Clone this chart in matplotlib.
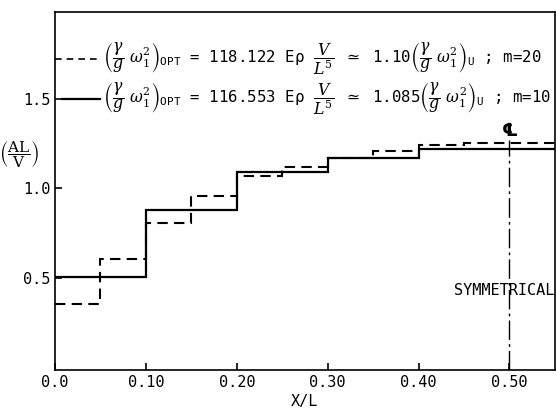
import matplotlib
matplotlib.use("Agg")
import matplotlib.pyplot as plt
import numpy as np

plt.rcParams["font.family"] = ["DejaVu Sans Mono", "DejaVu Sans"]
plt.rcParams["mathtext.fontset"] = "dejavuserif"

# optimum area distribution, m = 20 elements (dashed) and m = 10 elements (solid)
edges_m20 = np.array([0.00, 0.05, 0.10, 0.15, 0.20, 0.25, 0.30, 0.35, 0.40, 0.45, 0.50, 0.55])
area_m20 = [0.36, 0.61, 0.81, 0.96, 1.07, 1.12, 1.17, 1.21, 1.24, 1.25, 1.25]
edges_m10 = np.array([0.00, 0.10, 0.20, 0.30, 0.40, 0.50, 0.55])
area_m10 = [0.51, 0.88, 1.09, 1.17, 1.22, 1.22]

xticks = [0.0, 0.1, 0.2, 0.3, 0.4, 0.5]
xticklabels = ["0.0", "0.10", "0.20", "0.30", "0.40", "0.50"]
yticks = [0.5, 1.0, 1.5]
yticklabels = ["0.5", "1.0", "1.5"]

fig = plt.figure(figsize=(5.56, 4.08), dpi=100)
ax = fig.add_axes([0.099, 0.093, 0.899, 0.877])
ax.set_xlim(0, 0.55)
ax.set_ylim(-0.01, 1.98)

ax.stairs(area_m20, edges_m20, baseline=None, color="black", lw=1.5,
          linestyle=(0, (5, 3)))
ax.stairs(area_m10, edges_m10, baseline=None, color="black", lw=1.6)

# centre line of symmetry
ax.plot([0.5, 0.5], [-0.01, 1.27], color="black", lw=1.0,
        linestyle=(0, (14, 3, 2, 3)))
ax.text(0.5, 1.32, "\u2104", ha="center", va="center", fontsize=13,
        fontweight="bold", family="DejaVu Sans")
ax.text(0.4945, 0.43, "SYMMETRICAL", ha="center", va="center", fontsize=11)

# legend written as equations
eq = r"$\left(\dfrac{\gamma}{g}\ \omega_1^2\right)_{\mathtt{OPT}}$"
equ = r"$\left(\dfrac{\gamma}{g}\ \omega_1^2\right)_{\mathtt{U}}$"
frac = r"$\dfrac{V}{L^5}$"
ax.plot([0.0, 0.05], [1.72, 1.72], color="black", lw=1.2, linestyle=(0, (4, 3)))
ax.plot([0.008, 0.05], [1.50, 1.50], color="black", lw=1.6)
ax.text(0.053, 1.72, eq + " = 118.122 E\u03c1 " + frac + r" $\simeq$ 1.10" + equ + " ; m=20",
        ha="left", va="center", fontsize=11.3)
ax.text(0.053, 1.50, eq + " = 116.553 E\u03c1 " + frac + r" $\simeq$ 1.085" + equ + " ; m=10",
        ha="left", va="center", fontsize=11.3)

ax.set_xticks(xticks)
ax.set_xticklabels(xticklabels)
ax.set_yticks(yticks)
ax.set_yticklabels(yticklabels)
ax.tick_params(direction="in", length=5, width=1.2, labelsize=11)
for s in ax.spines.values():
    s.set_linewidth(1.2)

ax.set_xlabel("X/L", fontsize=11, labelpad=3)
fig.text(0.034, 0.62, r"$\left(\dfrac{\mathrm{AL}}{\mathrm{V}}\right)$", ha="center",
         va="center", fontsize=11)

fig.savefig("out.png", dpi=100)
